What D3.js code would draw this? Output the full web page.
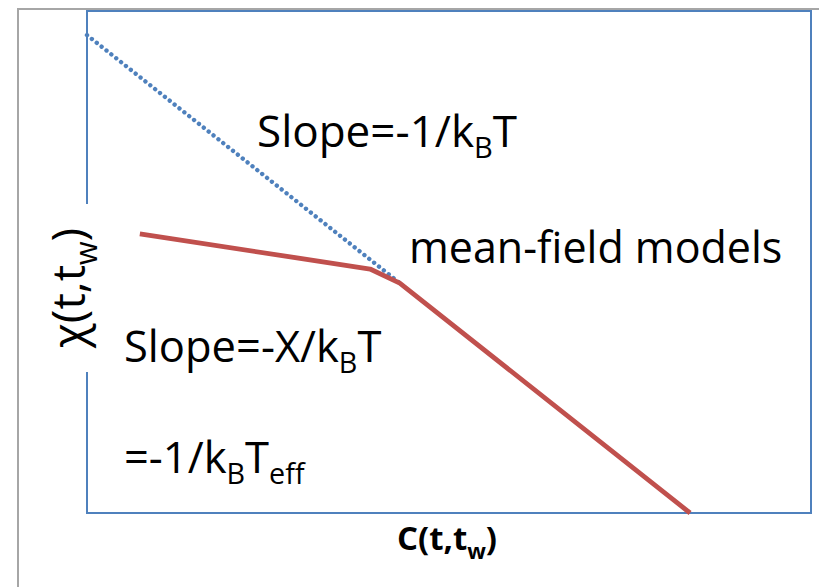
<!DOCTYPE html>
<html>
<head>
<meta charset="utf-8">
<script src="https://cdn.jsdelivr.net/npm/d3@7"></script>
<style>
  html, body { margin: 0; padding: 0; background: #fff; }
  svg { display: block; }
  text { font-family: "Open Sans", "Noto Sans", sans-serif; fill: #000; }
</style>
</head>
<body>
<svg id="chart" width="819" height="587"></svg>
<script>
// Response chi versus correlation C (normalised units)
const fdtLine = [ { c: 0.0, chi: 0.952 }, { c: 0.432, chi: 0.458 } ];       // slope -1/kBT
const agingCurve = [
  { c: 0.073, chi: 0.556 },
  { c: 0.391, chi: 0.486 },
  { c: 0.432, chi: 0.458 },
  { c: 0.833, chi: 0.0 }
];
const domainC = [0, 1];
const domainChi = [0, 1];

const svg = d3.select("#chart");
const margin = { left: 87, top: 11, right: 8, bottom: 74 };
const W = 819, H = 587;

const x = d3.scaleLinear().domain(domainC).range([margin.left, W - margin.right]);
const y = d3.scaleLinear().domain(domainChi).range([H - margin.bottom, margin.top]);

// outer frame
svg.append("path")
  .attr("d", `M18,${H} L18,9 L${W},9`)
  .attr("fill", "none").attr("stroke", "#a6a6a6").attr("stroke-width", 2);

// plot area border
svg.append("rect")
  .attr("x", x(0)).attr("y", y(1))
  .attr("width", x(1) - x(0)).attr("height", y(0) - y(1))
  .attr("fill", "none").attr("stroke", "#4f81bd").attr("stroke-width", 2);

const line = d3.line().x(d => x(d.c)).y(d => y(d.chi));

svg.append("path")
  .datum(fdtLine)
  .attr("d", line)
  .attr("fill", "none").attr("stroke", "#4f81bd")
  .attr("stroke-width", 4.4)
  .attr("stroke-linecap", "round")
  .attr("stroke-dasharray", "0.01 6.2");

svg.append("path")
  .datum(agingCurve)
  .attr("d", line)
  .attr("fill", "none").attr("stroke", "#c0504d")
  .attr("stroke-width", 4.8)
  .attr("stroke-linejoin", "round");

// text with subscripts
function label(xp, yp, parts, size, opts = {}) {
  const t = svg.append("text")
    .attr("x", xp).attr("y", yp)
    .attr("font-size", size)
    .attr("font-weight", opts.bold ? "bold" : null);
  if (opts.rotate) t.attr("transform", `rotate(-90 ${xp} ${yp})`).attr("text-anchor", "middle");
  if (opts.anchor) t.attr("text-anchor", opts.anchor);
  let sub = false;
  parts.forEach(p => {
    const isSub = typeof p === "object";
    const s = t.append("tspan").text(isSub ? p.sub : p);
    if (isSub) {
      s.attr("font-size", size * 0.66).attr("dy", size * 0.26);
      sub = true;
    } else if (sub) {
      s.attr("dy", -size * 0.26);
      sub = false;
    }
  });
  return t;
}

label(257, 147, ["Slope=-1/k", { sub: "B" }, "T"], 44);
label(409, 263, ["mean-field models"], 43);
label(124, 362, ["Slope=-X/k", { sub: "B" }, "T"], 43.5);
label(124, 473, ["=-1/k", { sub: "B" }, "T", { sub: "eff" }], 43.5);
label(447, 550, ["C(t,t", { sub: "w" }, ")"], 33, { bold: true, anchor: "middle" });

// y-axis title sits on a white box that interrupts the plot border
svg.append("rect")
  .attr("x", 38).attr("y", 204).attr("width", 58).attr("height", 168)
  .attr("fill", "#fff");
label(85, 288, ["\u03C7(t,t", { sub: "w" }, ")"], 46, { rotate: true });
</script>
</body>
</html>
